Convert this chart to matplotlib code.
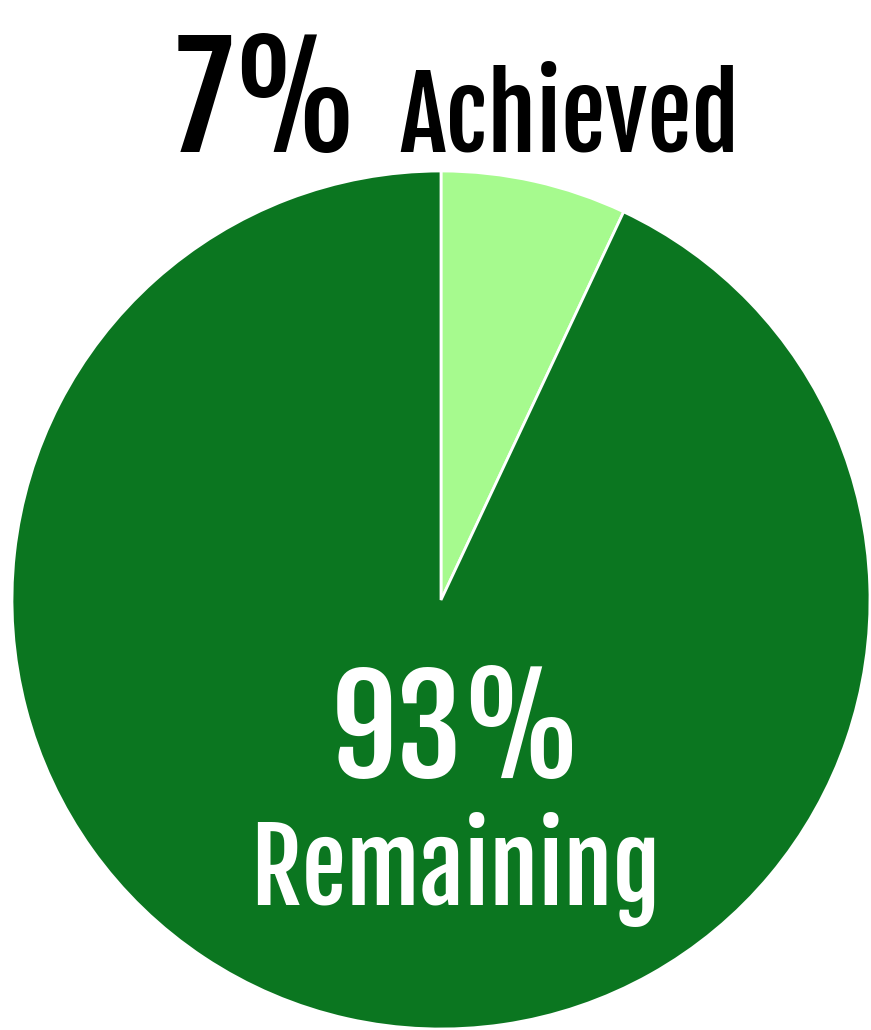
import matplotlib
matplotlib.use("Agg")
import matplotlib.pyplot as plt

labels = ["Achieved", "Remaining"]
values = [7, 93]
colors = ["#a6fa8e", "#0b7620"]

W, H = 871, 1030
fig = plt.figure(figsize=(W / 100, H / 100), dpi=100)
ax = fig.add_axes([12 / W, 1 / H, 858 / W, 858 / H])
ax.pie(values, colors=colors, startangle=90, counterclock=False,
       wedgeprops=dict(edgecolor="white", linewidth=2))
ax.set_xlim(-1, 1)
ax.set_ylim(-1, 1)
ax.set_aspect("auto")
ax.axis("off")

font = dict(family=["Fjalla One", "DejaVu Sans"])


def fitted(s, x0, x1, base, color, grow=1.08):
    # centre text between x0 and x1 (pixels from left), baseline at base (from top)
    t = fig.text((x0 + x1) / 2 / W, 1 - base / H, s, fontsize=100, color=color,
                 ha="center", va="baseline", **font)
    r = fig.canvas.get_renderer()
    w = t.get_window_extent(r).width
    t.set_fontsize(100 * (x1 - x0) / w * grow)
    return t


fitted(f"{values[0]}%", 182, 352, 152, "black")
fitted(labels[0], 412, 727, 152, "black")
fitted(f"{values[1]}%", 340, 573, 778, "white")
fitted(labels[1], 265, 645, 905, "white")

fig.savefig("out.png", dpi=100)
